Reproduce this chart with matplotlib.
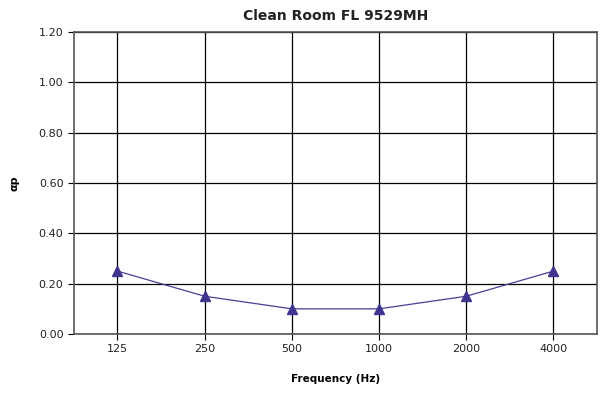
import matplotlib
matplotlib.use("Agg")
import matplotlib.pyplot as plt

frequencies = ["125", "250", "500", "1000", "2000", "4000"]
alpha_p = [0.25, 0.15, 0.10, 0.10, 0.15, 0.25]
y_ticks = [0.0, 0.2, 0.4, 0.6, 0.8, 1.0, 1.2]

fig = plt.figure(figsize=(6, 4), dpi=100)
ax = fig.add_axes([0.123, 0.165, 0.872, 0.755])

x = range(len(frequencies))
ax.plot(x, alpha_p, color="#4a3f94", linewidth=0.9, marker="^",
        markersize=7, markerfacecolor="#3f3590", markeredgecolor="#3f3590",
        zorder=3)

ax.set_xlim(-0.5, len(frequencies) - 0.5)
ax.set_ylim(0, 1.2)
ax.set_xticks(list(x))
ax.set_xticklabels(frequencies)
ax.set_yticks(y_ticks)
ax.set_yticklabels([f"{v:.2f}" for v in y_ticks])
ax.grid(True, color="black", linewidth=0.9)
ax.set_axisbelow(True)

for side in ["top", "right", "left", "bottom"]:
    ax.spines[side].set_color("#555555")
    ax.spines[side].set_linewidth(1.2)

ax.tick_params(axis="both", labelsize=8, color="black", length=4,
               labelcolor="#222222")

ax.set_title("Clean Room FL 9529MH", fontsize=10, fontweight="bold",
             color="#222222", pad=9)
ax.set_xlabel("Frequency (Hz)", fontsize=7.5, fontweight="bold", labelpad=14)
ax.set_ylabel("αp", fontsize=8, fontweight="bold", labelpad=14)

fig.savefig("out.png", dpi=100)
